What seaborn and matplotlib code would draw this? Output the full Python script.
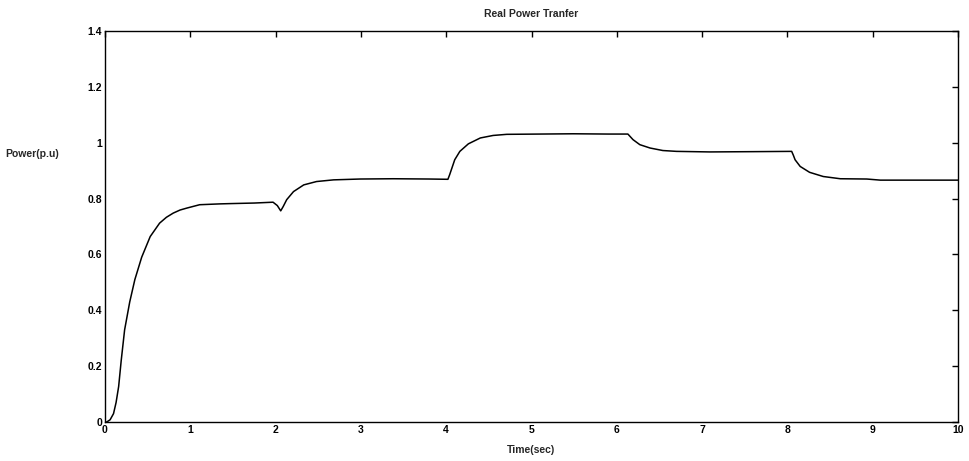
import matplotlib
matplotlib.use("Agg")
import matplotlib.pyplot as plt
import seaborn as sns
import pandas as pd
from matplotlib.ticker import FormatStrFormatter

# Real power transfer response (time in seconds, power in per unit)
time_sec = [0.00, 0.02, 0.06, 0.10, 0.13, 0.16, 0.19, 0.23, 0.29, 0.35, 0.43,
            0.53, 0.64, 0.72, 0.80, 0.88, 0.96, 1.11, 1.35, 1.47, 1.75, 1.97,
            2.02, 2.06, 2.09, 2.13, 2.21, 2.33, 2.48, 2.68, 2.99, 3.38, 3.80,
            4.02, 4.04, 4.06, 4.10, 4.16, 4.26, 4.40, 4.55, 4.71, 5.10, 5.49,
            5.90, 6.13, 6.16, 6.19, 6.27, 6.39, 6.54, 6.70, 7.09, 7.60, 8.05,
            8.07, 8.09, 8.15, 8.26, 8.42, 8.62, 8.93, 9.09, 9.32, 9.70, 10.00]
power_pu = [0.000, 0.000, 0.008, 0.030, 0.070, 0.127, 0.220, 0.330, 0.430,
            0.510, 0.590, 0.664, 0.712, 0.733, 0.748, 0.759, 0.766, 0.778,
            0.781, 0.782, 0.784, 0.787, 0.775, 0.756, 0.772, 0.796, 0.825,
            0.849, 0.861, 0.867, 0.870, 0.871, 0.870, 0.869, 0.885, 0.903,
            0.939, 0.969, 0.996, 1.017, 1.026, 1.030, 1.031, 1.032, 1.031,
            1.031, 1.021, 1.011, 0.993, 0.981, 0.972, 0.969, 0.967, 0.968,
            0.969, 0.955, 0.939, 0.915, 0.894, 0.879, 0.871, 0.870, 0.866,
            0.866, 0.866, 0.866]

x_ticks = [0, 1, 2, 3, 4, 5, 6, 7, 8, 9, 10]
y_ticks = [0, 0.2, 0.4, 0.6, 0.8, 1.0, 1.2, 1.4]

sns.set_theme(style="white")
plt.rcParams["font.family"] = ["Liberation Sans", "DejaVu Sans"]

df = pd.DataFrame({"Time": time_sec, "Power": power_pu})

fig = plt.figure(figsize=(9.69, 4.61), dpi=100)
ax = fig.add_axes([105 / 969, 1 - 422 / 461, 853 / 969, 391 / 461])

sns.lineplot(data=df, x="Time", y="Power", ax=ax, color="black",
             linewidth=1.1, estimator=None, sort=False)

ax.set_xlim(0, 10)
ax.set_ylim(0, 1.4)
ax.set_xticks(x_ticks)
ax.set_yticks(y_ticks)
ax.yaxis.set_major_formatter(FormatStrFormatter("%g"))
ax.tick_params(direction="in", length=4, width=1.0, color="black",
               top=True, right=True, labelsize=7.5, pad=2,
               labelcolor="black")
for lbl in ax.get_xticklabels() + ax.get_yticklabels():
    lbl.set_fontweight("bold")
for sp in ax.spines.values():
    sp.set_color("black")
    sp.set_linewidth(1.0)

ax.set_xlabel("")
ax.set_ylabel("")
fig.text(531 / 969, 1 - 450 / 461, "Time(sec)", ha="center", va="center",
         fontsize=7.5, fontweight="bold")
fig.text(5 / 969, 1 - 154 / 461, "Power(p.u)", ha="left", va="center",
         fontsize=7.5, fontweight="bold")
fig.text(531 / 969, 1 - 14 / 461, "Real Power Tranfer", ha="center",
         va="center", fontsize=7.5, fontweight="bold")

fig.savefig("out.png", dpi=100, facecolor="white")
